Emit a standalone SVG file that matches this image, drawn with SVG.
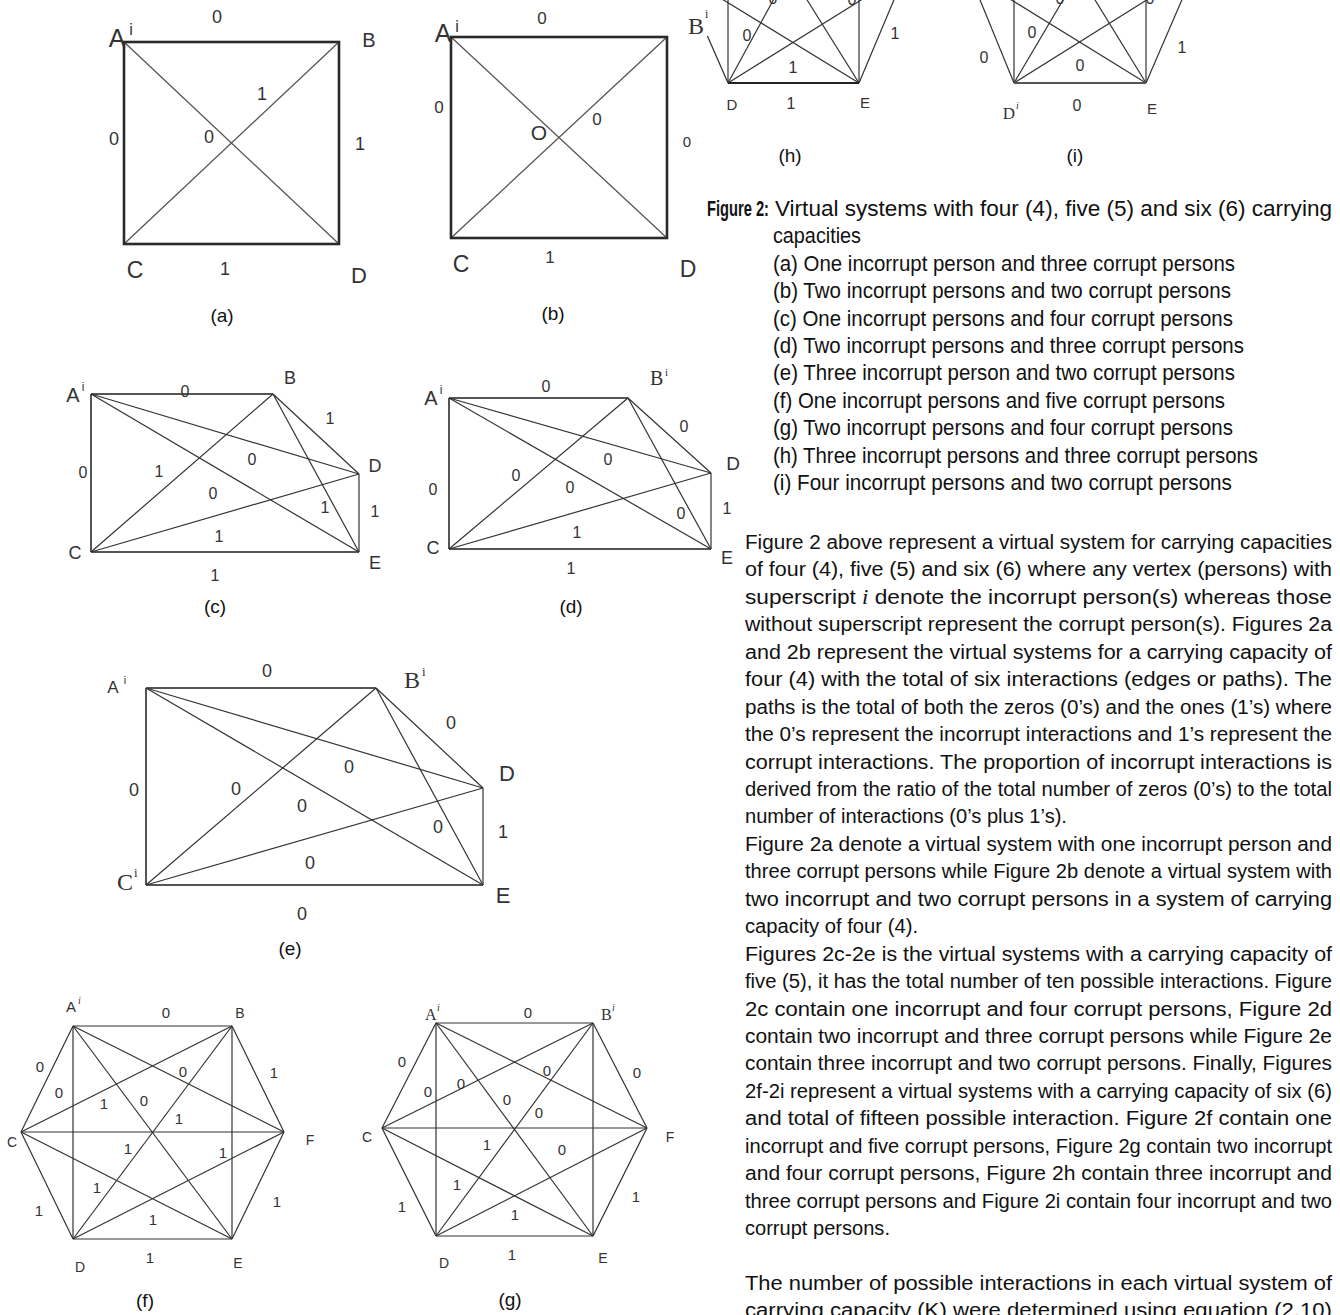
<svg xmlns="http://www.w3.org/2000/svg" width="1340" height="1315" viewBox="0 0 1340 1315">
<style>
.e{stroke:#333;stroke-width:1.2;fill:none}
.eg{stroke:#555;stroke-width:1.3;fill:none}
.eb{stroke:#2a2a2a;stroke-width:2.6;fill:none}
.eo{stroke:#555;stroke-width:2;fill:none}
.l{font-family:"Liberation Sans",Arial,sans-serif;fill:#333;text-anchor:middle}
.s{font-family:"Liberation Serif","Times New Roman",serif;fill:#333}
.c{font-family:"Liberation Sans",Arial,sans-serif;fill:#111;text-anchor:middle;font-size:19px}
.t{font-family:"Liberation Sans",Arial,sans-serif;fill:#111;font-size:21px}
.tc{font-family:"Liberation Sans",Arial,sans-serif;fill:#111;font-size:22px}
</style>
<rect width="1340" height="1315" fill="#fff"/>

<!-- Figure (a) -->
<g id="fig-a">
 <g id="fig-a-connectors">
  <line class="eg" x1="124" y1="42" x2="339" y2="244"/>
  <line class="eg" x1="339" y1="42" x2="124" y2="244"/>
  <rect class="eb" x="124" y="42" width="215" height="202"/>
 </g>
 <g class="l" font-size="18">
  <text x="217" y="23">0</text><text x="114" y="145">0</text><text x="209" y="143">0</text>
  <text x="262" y="100">1</text><text x="360" y="150">1</text><text x="225" y="275">1</text>
 </g>
 <g id="a-A"><text class="l" x="117" y="47" font-size="25">A</text><text class="l" x="131" y="35" font-size="16">i</text></g>
 <g id="a-B"><text class="l" x="369" y="47" font-size="20">B</text></g>
 <g id="a-C"><text class="l" x="135" y="278" font-size="23">C</text></g>
 <g id="a-D"><text class="l" x="359" y="283" font-size="22">D</text></g>
 <text class="c" x="222" y="322">(a)</text>
</g>

<!-- Figure (b) -->
<g id="fig-b">
 <g id="fig-b-connectors">
  <line class="eg" x1="451" y1="37" x2="667" y2="238"/>
  <line class="eg" x1="667" y1="37" x2="451" y2="238"/>
  <rect class="eb" x="451" y="37" width="216" height="201"/>
 </g>
 <g class="l" font-size="17">
  <text x="542" y="24">0</text><text x="439" y="113">0</text><text x="597" y="125">0</text>
  <text x="687" y="147" font-size="15">0</text><text x="550" y="263">1</text>
  <text x="539" y="140" font-size="21">O</text>
 </g>
 <g id="b-A"><text class="l" x="443" y="42" font-size="25">A</text><text class="l" x="457" y="32" font-size="16">i</text></g>
 <g id="b-C"><text class="l" x="461" y="272" font-size="23">C</text></g>
 <g id="b-D"><text class="l" x="688" y="277" font-size="23">D</text></g>
 <text class="c" x="553" y="320">(b)</text>
</g>

<!-- Figure (h), cut at top -->
<g id="fig-h">
 <g id="fig-h-connectors">
  <line class="e" x1="728" y1="83" x2="728" y2="-5"/>
  <line class="e" x1="859" y1="83" x2="859" y2="-5"/>
  <line class="e" x1="728" y1="83" x2="707" y2="35"/>
  <line class="e" x1="728" y1="83" x2="776" y2="-5"/>
  <line class="e" x1="728" y1="83" x2="866" y2="-3"/>
  <line class="e" x1="859" y1="83" x2="717" y2="-4"/>
  <line class="e" x1="859" y1="83" x2="804" y2="-5"/>
  <line class="e" x1="859" y1="83" x2="896" y2="-5"/>
  <line stroke="#222" stroke-width="2" x1="728" y1="83" x2="859" y2="83"/>
 </g>
 <g class="l" font-size="16">
  <text x="773" y="4">0</text><text x="852" y="5">0</text>
  <text x="747" y="41">0</text><text x="793" y="73">1</text><text x="895" y="39">1</text>
  <text x="791" y="109">1</text>
 </g>
 <g id="h-B"><rect x="686" y="12" width="22" height="24" fill="#fff"/><text class="s" x="688" y="34" font-size="24">B</text><text class="s" x="705" y="18" font-size="12">i</text></g>
 <g id="h-D"><text class="l" x="732" y="110" font-size="15">D</text></g>
 <g id="h-E"><text class="l" x="865" y="108" font-size="15">E</text></g>
 <text class="c" x="790" y="162">(h)</text>
</g>

<!-- Figure (i), cut at top -->
<g id="fig-i">
 <g id="fig-i-connectors">
  <line class="e" x1="1014" y1="83" x2="1014" y2="-5"/>
  <line class="e" x1="1146" y1="83" x2="1146" y2="-5"/>
  <line class="e" x1="1014" y1="83" x2="978" y2="-5"/>
  <line class="e" x1="1014" y1="83" x2="1066" y2="-5"/>
  <line class="e" x1="1014" y1="83" x2="1153" y2="-4"/>
  <line class="e" x1="1146" y1="83" x2="1005" y2="-4"/>
  <line class="e" x1="1146" y1="83" x2="1092" y2="-5"/>
  <line class="e" x1="1146" y1="83" x2="1184" y2="-5"/>
  <line stroke="#555" stroke-width="2" x1="1014" y1="83" x2="1146" y2="83"/>
 </g>
 <g class="l" font-size="16">
  <text x="1060" y="4">0</text><text x="1150" y="4">0</text>
  <text x="1032" y="38">0</text><text x="984" y="63">0</text><text x="1080" y="71">0</text>
  <text x="1182" y="53">1</text><text x="1077" y="111">0</text>
 </g>
 <g id="i-D"><text class="s" x="1009" y="119" font-size="17" text-anchor="middle">D</text><text class="s" x="1016" y="109" font-size="10" font-style="italic">i</text></g>
 <g id="i-E"><text class="l" x="1152" y="114" font-size="15">E</text></g>
 <text class="c" x="1075" y="162">(i)</text>
</g>

<!-- Figure (c) -->
<g id="fig-c">
 <g id="fig-c-connectors">
  <line class="eo" x1="91" y1="394" x2="273" y2="394"/>
  <line class="eo" x1="91" y1="394" x2="91" y2="552"/>
  <line class="eo" x1="91" y1="552" x2="359" y2="552"/>
  <line class="e" x1="359" y1="474" x2="359" y2="552"/>
  <line class="e" x1="273" y1="394" x2="359" y2="474"/>
  <line class="e" x1="91" y1="394" x2="359" y2="474"/>
  <line class="e" x1="91" y1="394" x2="359" y2="552"/>
  <line class="e" x1="273" y1="394" x2="91" y2="552"/>
  <line class="e" x1="273" y1="394" x2="359" y2="552"/>
  <line class="e" x1="91" y1="552" x2="359" y2="474"/>
 </g>
 <g class="l" font-size="16">
  <text x="185" y="397">0</text><text x="330" y="424">1</text><text x="83" y="478">0</text>
  <text x="159" y="477">1</text><text x="252" y="465">0</text><text x="213" y="499">0</text>
  <text x="325" y="513">1</text><text x="375" y="517">1</text><text x="219" y="542">1</text>
  <text x="215" y="581">1</text>
 </g>
 <g id="c-A"><text class="l" x="73" y="402" font-size="20">A</text><text class="l" x="83" y="391" font-size="12">i</text></g>
 <g id="c-B"><text class="l" x="290" y="384" font-size="18">B</text></g>
 <g id="c-C"><text class="l" x="75" y="559" font-size="18">C</text></g>
 <g id="c-D"><text class="l" x="375" y="472" font-size="18">D</text></g>
 <g id="c-E"><text class="l" x="375" y="569" font-size="18">E</text></g>
 <text class="c" x="215" y="613">(c)</text>
</g>

<!-- Figure (d) -->
<g id="fig-d">
 <g id="fig-d-connectors">
  <line class="eo" x1="449" y1="398" x2="628" y2="398"/>
  <line class="eo" x1="449" y1="398" x2="449" y2="549"/>
  <line class="eo" x1="449" y1="549" x2="711" y2="549"/>
  <line class="e" x1="711" y1="473" x2="711" y2="549"/>
  <line class="e" x1="628" y1="398" x2="711" y2="473"/>
  <line class="e" x1="449" y1="398" x2="711" y2="473"/>
  <line class="e" x1="449" y1="398" x2="711" y2="549"/>
  <line class="e" x1="628" y1="398" x2="449" y2="549"/>
  <line class="e" x1="628" y1="398" x2="711" y2="549"/>
  <line class="e" x1="449" y1="549" x2="711" y2="473"/>
 </g>
 <g class="l" font-size="16">
  <text x="546" y="392">0</text><text x="684" y="432">0</text><text x="608" y="465">0</text>
  <text x="516" y="481">0</text><text x="433" y="495">0</text><text x="570" y="493">0</text>
  <text x="681" y="519">0</text><text x="727" y="514">1</text><text x="577" y="538">1</text>
  <text x="571" y="574">1</text>
 </g>
 <g id="d-A"><text class="l" x="431" y="405" font-size="20">A</text><text class="l" x="441" y="394" font-size="12">i</text></g>
 <g id="d-B"><text class="s" x="650" y="385" font-size="20">B</text><text class="s" x="665" y="376" font-size="11">i</text></g>
 <g id="d-C"><text class="l" x="433" y="554" font-size="18">C</text></g>
 <g id="d-D"><text class="l" x="733" y="470" font-size="19">D</text></g>
 <g id="d-E"><text class="l" x="727" y="564" font-size="18">E</text></g>
 <text class="c" x="571" y="613">(d)</text>
</g>

<!-- Figure (e) -->
<g id="fig-e">
 <g id="fig-e-connectors">
  <line class="eo" x1="146" y1="688" x2="376" y2="688"/>
  <line class="eo" x1="146" y1="688" x2="146" y2="885"/>
  <line class="eo" x1="146" y1="885" x2="483" y2="885"/>
  <line class="e" x1="483" y1="788" x2="483" y2="885"/>
  <line class="e" x1="376" y1="688" x2="483" y2="788"/>
  <line class="e" x1="146" y1="688" x2="483" y2="788"/>
  <line class="e" x1="146" y1="688" x2="483" y2="885"/>
  <line class="e" x1="376" y1="688" x2="146" y2="885"/>
  <line class="e" x1="376" y1="688" x2="483" y2="885"/>
  <line class="e" x1="146" y1="885" x2="483" y2="788"/>
 </g>
 <g class="l" font-size="18">
  <text x="267" y="677">0</text><text x="451" y="729">0</text><text x="349" y="773">0</text>
  <text x="134" y="796">0</text><text x="236" y="795">0</text><text x="302" y="812">0</text>
  <text x="438" y="833">0</text><text x="503" y="838">1</text><text x="310" y="869">0</text>
  <text x="302" y="920">0</text>
 </g>
 <g id="e-A"><text class="l" x="113" y="693" font-size="17" fill="#555">A</text><text class="l" x="125" y="684" font-size="11" fill="#555">i</text></g>
 <g id="e-B"><text class="s" x="404" y="688" font-size="24">B</text><text class="s" x="422" y="676" font-size="13">i</text></g>
 <g id="e-C"><text class="s" x="117" y="890" font-size="24">C</text><text class="s" x="134" y="877" font-size="13">i</text></g>
 <g id="e-D"><text class="l" x="507" y="781" font-size="22">D</text></g>
 <g id="e-E"><text class="l" x="503" y="903" font-size="22">E</text></g>
 <text class="c" x="290" y="955">(e)</text>
</g>

<!-- Figure (f) -->
<g id="fig-f">
 <g id="fig-f-connectors">
  <line class="e" x1="73" y1="1026" x2="232" y2="1026"/>
  <line class="e" x1="73" y1="1026" x2="21" y2="1132"/>
  <line class="e" x1="73" y1="1026" x2="73" y2="1239"/>
  <line class="e" x1="73" y1="1026" x2="232" y2="1239"/>
  <line class="e" x1="73" y1="1026" x2="284" y2="1132"/>
  <line class="e" x1="232" y1="1026" x2="21" y2="1132"/>
  <line class="e" x1="232" y1="1026" x2="73" y2="1239"/>
  <line class="e" x1="232" y1="1026" x2="232" y2="1239"/>
  <line class="e" x1="232" y1="1026" x2="284" y2="1132"/>
  <line class="e" x1="21" y1="1132" x2="73" y2="1239"/>
  <line class="e" x1="21" y1="1132" x2="232" y2="1239"/>
  <line class="e" x1="21" y1="1132" x2="284" y2="1132"/>
  <line class="e" x1="73" y1="1239" x2="232" y2="1239"/>
  <line class="e" x1="73" y1="1239" x2="284" y2="1132"/>
  <line class="e" x1="232" y1="1239" x2="284" y2="1132"/>
 </g>
 <g class="l" font-size="15">
  <text x="166" y="1018">0</text><text x="40" y="1072">0</text><text x="274" y="1078">1</text>
  <text x="59" y="1098">0</text><text x="183" y="1077">0</text><text x="104" y="1109">1</text>
  <text x="144" y="1106">0</text><text x="179" y="1124">1</text><text x="128" y="1154">1</text>
  <text x="223" y="1158">1</text><text x="97" y="1193">1</text><text x="277" y="1207">1</text>
  <text x="39" y="1216">1</text><text x="153" y="1225">1</text><text x="150" y="1263">1</text>
 </g>
 <g id="f-A"><text class="l" x="71" y="1012" font-size="15">A</text><text class="s" x="78" y="1004" font-size="10" font-style="italic">i</text></g>
 <g id="f-B"><text class="l" x="240" y="1018" font-size="14">B</text></g>
 <g id="f-C"><text class="l" x="12" y="1147" font-size="14">C</text></g>
 <g id="f-F"><text class="l" x="310" y="1145" font-size="14">F</text></g>
 <g id="f-D"><text class="l" x="80" y="1272" font-size="14">D</text></g>
 <g id="f-E"><text class="l" x="238" y="1268" font-size="14">E</text></g>
 <text class="c" x="145" y="1307">(f)</text>
</g>

<!-- Figure (g) -->
<g id="fig-g">
 <g id="fig-g-connectors">
  <line class="e" x1="436" y1="1023" x2="593" y2="1023"/>
  <line class="e" x1="436" y1="1023" x2="382" y2="1128"/>
  <line class="e" x1="436" y1="1023" x2="436" y2="1236"/>
  <line class="e" x1="436" y1="1023" x2="593" y2="1236"/>
  <line class="e" x1="436" y1="1023" x2="647" y2="1128"/>
  <line class="e" x1="593" y1="1023" x2="382" y2="1128"/>
  <line class="e" x1="593" y1="1023" x2="436" y2="1236"/>
  <line class="e" x1="593" y1="1023" x2="593" y2="1236"/>
  <line class="e" x1="593" y1="1023" x2="647" y2="1128"/>
  <line class="e" x1="382" y1="1128" x2="436" y2="1236"/>
  <line class="e" x1="382" y1="1128" x2="593" y2="1236"/>
  <line class="e" x1="382" y1="1128" x2="647" y2="1128"/>
  <line class="e" x1="436" y1="1236" x2="593" y2="1236"/>
  <line class="e" x1="436" y1="1236" x2="647" y2="1128"/>
  <line class="e" x1="593" y1="1236" x2="647" y2="1128"/>
 </g>
 <g class="l" font-size="15">
  <text x="528" y="1018">0</text><text x="402" y="1067">0</text><text x="637" y="1078">0</text>
  <text x="428" y="1097">0</text><text x="461" y="1089">0</text><text x="547" y="1076">0</text>
  <text x="507" y="1105">0</text><text x="539" y="1118">0</text><text x="487" y="1150">1</text>
  <text x="562" y="1155">0</text><text x="457" y="1190">1</text><text x="636" y="1202">1</text>
  <text x="402" y="1212">1</text><text x="515" y="1220">1</text><text x="512" y="1260">1</text>
 </g>
 <g id="g-A"><text class="s" x="425" y="1020" font-size="16">A</text><text class="s" x="437" y="1011" font-size="10" font-style="italic">i</text></g>
 <g id="g-B"><text class="s" x="601" y="1020" font-size="16">B</text><text class="s" x="612" y="1011" font-size="10" font-style="italic">i</text></g>
 <g id="g-C"><text class="l" x="367" y="1142" font-size="14">C</text></g>
 <g id="g-F"><text class="l" x="670" y="1142" font-size="14">F</text></g>
 <g id="g-D"><text class="l" x="444" y="1268" font-size="14">D</text></g>
 <g id="g-E"><text class="l" x="603" y="1263" font-size="14">E</text></g>
 <text class="c" x="510" y="1306">(g)</text>
</g>

<!-- Caption (condensed by horizontal scale 0.84) -->
<g id="caption" transform="scale(0.84,1)">
 <text class="tc" x="841.7" y="216" font-weight="bold" textLength="73.8" lengthAdjust="spacingAndGlyphs">Figure 2:</text>
 <text class="tc" x="922.6" y="216" textLength="663.1" lengthAdjust="spacingAndGlyphs">Virtual systems with four (4), five (5) and six (6) carrying</text>
 <text class="tc" x="920.2" y="243" textLength="104.8" lengthAdjust="spacingAndGlyphs">capacities</text>
 <text class="tc" x="920.2" y="271" textLength="550" lengthAdjust="spacingAndGlyphs">(a) One incorrupt person and three corrupt persons</text>
 <text class="tc" x="920.2" y="298" textLength="545.2" lengthAdjust="spacingAndGlyphs">(b) Two incorrupt persons and two corrupt persons</text>
 <text class="tc" x="920.2" y="326" textLength="547.6" lengthAdjust="spacingAndGlyphs">(c) One incorrupt persons and four corrupt persons</text>
 <text class="tc" x="920.2" y="353" textLength="560.7" lengthAdjust="spacingAndGlyphs">(d) Two incorrupt persons and three corrupt persons</text>
 <text class="tc" x="920.2" y="380" textLength="550" lengthAdjust="spacingAndGlyphs">(e) Three incorrupt person and two corrupt persons</text>
 <text class="tc" x="920.2" y="408" textLength="538.1" lengthAdjust="spacingAndGlyphs">(f) One incorrupt persons and five corrupt persons</text>
 <text class="tc" x="920.2" y="435" textLength="547.6" lengthAdjust="spacingAndGlyphs">(g) Two incorrupt persons and four corrupt persons</text>
 <text class="tc" x="920.2" y="463" textLength="577.4" lengthAdjust="spacingAndGlyphs">(h) Three incorrupt persons and three corrupt persons</text>
 <text class="tc" x="920.2" y="490" textLength="546.4" lengthAdjust="spacingAndGlyphs">(i) Four incorrupt persons and two corrupt persons</text>
</g>

<!-- Body text (condensed by horizontal scale 0.84) -->
<g id="body" transform="scale(0.84,1)">
 <text class="t" x="886.9" y="549" textLength="698.8" lengthAdjust="spacingAndGlyphs">Figure 2 above represent a virtual system for carrying capacities</text>
 <text class="t" x="886.9" y="576.5" textLength="698.8" lengthAdjust="spacingAndGlyphs">of four (4), five (5) and six (6) where any vertex (persons) with</text>
 <text class="t" x="886.9" y="604" textLength="698.8" lengthAdjust="spacingAndGlyphs">superscript <tspan font-family="Liberation Serif,serif" font-style="italic">i</tspan> denote the incorrupt person(s) whereas those</text>
 <text class="t" x="886.9" y="631.4" textLength="698.8" lengthAdjust="spacingAndGlyphs">without superscript represent the corrupt person(s). Figures 2a</text>
 <text class="t" x="886.9" y="658.8" textLength="698.8" lengthAdjust="spacingAndGlyphs">and 2b represent the virtual systems for a carrying capacity of</text>
 <text class="t" x="886.9" y="686.3" textLength="698.8" lengthAdjust="spacingAndGlyphs">four (4) with the total of six interactions (edges or paths). The</text>
 <text class="t" x="886.9" y="713.7" textLength="698.8" lengthAdjust="spacingAndGlyphs">paths is the total of both the zeros (0’s) and the ones (1’s) where</text>
 <text class="t" x="886.9" y="741.2" textLength="698.8" lengthAdjust="spacingAndGlyphs">the 0’s represent the incorrupt interactions and 1’s represent the</text>
 <text class="t" x="886.9" y="768.6" textLength="698.8" lengthAdjust="spacingAndGlyphs">corrupt interactions. The proportion of incorrupt interactions is</text>
 <text class="t" x="886.9" y="796" textLength="698.8" lengthAdjust="spacingAndGlyphs">derived from the ratio of the total number of zeros (0’s) to the total</text>
 <text class="t" x="886.9" y="823.5" textLength="383.3" lengthAdjust="spacingAndGlyphs">number of interactions (0’s plus 1’s).</text>
 <text class="t" x="886.9" y="851" textLength="698.8" lengthAdjust="spacingAndGlyphs">Figure 2a denote a virtual system with one incorrupt person and</text>
 <text class="t" x="886.9" y="878.4" textLength="698.8" lengthAdjust="spacingAndGlyphs">three corrupt persons while Figure 2b denote a virtual system with</text>
 <text class="t" x="886.9" y="905.9" textLength="698.8" lengthAdjust="spacingAndGlyphs">two incorrupt and two corrupt persons in a system of carrying</text>
 <text class="t" x="886.9" y="933.3" textLength="206" lengthAdjust="spacingAndGlyphs">capacity of four (4).</text>
 <text class="t" x="886.9" y="960.8" textLength="698.8" lengthAdjust="spacingAndGlyphs">Figures 2c-2e is the virtual systems with a carrying capacity of</text>
 <text class="t" x="886.9" y="988.2" textLength="698.8" lengthAdjust="spacingAndGlyphs">five (5), it has the total number of ten possible interactions. Figure</text>
 <text class="t" x="886.9" y="1015.6" textLength="698.8" lengthAdjust="spacingAndGlyphs">2c contain one incorrupt and four corrupt persons, Figure 2d</text>
 <text class="t" x="886.9" y="1043.1" textLength="698.8" lengthAdjust="spacingAndGlyphs">contain two incorrupt and three corrupt persons while Figure 2e</text>
 <text class="t" x="886.9" y="1070.5" textLength="698.8" lengthAdjust="spacingAndGlyphs">contain three incorrupt and two corrupt persons. Finally, Figures</text>
 <text class="t" x="886.9" y="1098" textLength="698.8" lengthAdjust="spacingAndGlyphs">2f-2i represent a virtual systems with a carrying capacity of six (6)</text>
 <text class="t" x="886.9" y="1125.4" textLength="698.8" lengthAdjust="spacingAndGlyphs">and total of fifteen possible interaction. Figure 2f contain one</text>
 <text class="t" x="886.9" y="1152.9" textLength="698.8" lengthAdjust="spacingAndGlyphs">incorrupt and five corrupt persons, Figure 2g contain two incorrupt</text>
 <text class="t" x="886.9" y="1180.3" textLength="698.8" lengthAdjust="spacingAndGlyphs">and four corrupt persons, Figure 2h contain three incorrupt and</text>
 <text class="t" x="886.9" y="1207.7" textLength="698.8" lengthAdjust="spacingAndGlyphs">three corrupt persons and Figure 2i contain four incorrupt and two</text>
 <text class="t" x="886.9" y="1235.2" textLength="172.6" lengthAdjust="spacingAndGlyphs">corrupt persons.</text>
 <text class="t" x="886.9" y="1290" textLength="698.8" lengthAdjust="spacingAndGlyphs">The number of possible interactions in each virtual system of</text>
 <text class="t" x="886.9" y="1317.5" textLength="698.8" lengthAdjust="spacingAndGlyphs">carrying capacity (K) were determined using equation (2.10)</text>
</g>
</svg>
